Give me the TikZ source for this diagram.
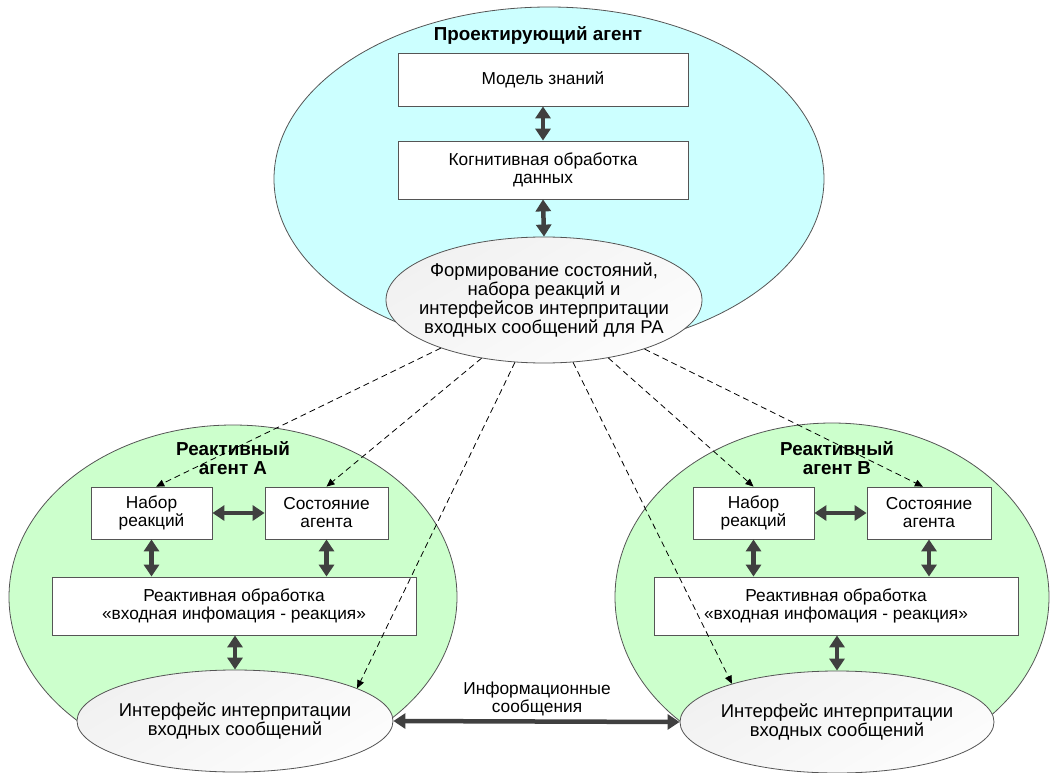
\documentclass[tikz,border=0pt]{standalone}
\usepackage{fontspec}
\setmainfont{Liberation Sans}
\usetikzlibrary{arrows.meta,shapes.geometric,calc}
\definecolor{cyanfill}{HTML}{CCFFFF}
\definecolor{greenfill}{HTML}{CCFFCC}
\definecolor{edgegray}{HTML}{555555}
\definecolor{arrgray}{HTML}{404040}
\begin{document}
\begin{tikzpicture}[x=1pt,y=-1pt,
 every node/.style={font=\fontsize{17.3}{18}\selectfont},
 agent/.style={ellipse, draw=edgegray, line width=0.8pt, inner sep=0pt},
 box/.style={rectangle, draw=edgegray, line width=0.8pt, fill=white, inner sep=0pt, align=center},
 oval/.style={ellipse, draw=edgegray, line width=0.8pt, inner sep=0pt, top color=gray!11, bottom color=gray!2, shading angle=30},
 ovaltext/.style={align=center, font=\fontsize{18.5}{18.8}\selectfont},
 ttl/.style={font=\fontsize{18.8}{19}\selectfont\bfseries, align=center},
 link/.style={draw=arrgray, line width=4.5pt, {Triangle[length=12pt,width=15pt]}-{Triangle[length=12pt,width=15pt]}},
 dlink/.style={draw=black, line width=0.8pt, dash pattern=on 6pt off 4pt, -{Triangle[length=8pt,width=7pt]}}
]
\useasboundingbox (0,0) rectangle (1050,773);
% agents
\node[agent, fill=cyanfill, minimum width=550pt, minimum height=344pt] (pa) at (549,179) {};
\node[agent, fill=greenfill, minimum width=448pt, minimum height=344pt] (ra) at (233,597) {};
\node[agent, fill=greenfill, minimum width=434pt, minimum height=348pt] (rb) at (832,597) {};
% titles
\node[ttl] (tpa) at (538,35) {Проектирующий агент};
\node[ttl] (tra) at (233,458) {Реактивный\\агент А};
\node[ttl] (trb) at (837,458) {Реактивный\\агент В};
% top agent
\node[box, minimum width=290pt, minimum height=53pt] (model) at (543,79.5) {Модель знаний};
\node[box, minimum width=290pt, minimum height=58pt] (cog) at (543,170) {Когнитивная обработка\\данных};
\node[oval, minimum width=316pt, minimum height=126pt,
  label={[ovaltext]center:Формирование состояний,\\набора реакций и\\интерфейсов интерпритации\\входных сообщений для РА}] (form) at (544,300) {};
% agent A
\node[box, minimum width=121pt, minimum height=52pt] (nabA) at (151.5,513) {Набор\\реакций};
\node[box, minimum width=123pt, minimum height=52pt] (sostA) at (326.5,513) {Состояние\\агента};
\node[box, minimum width=364pt, minimum height=58pt] (reactA) at (234,606) {Реактивная обработка\\«входная инфомация - реакция»};
\node[oval, minimum width=316pt, minimum height=102pt,
  label={[ovaltext]center:Интерфейс интерпритации\\входных сообщений}] (ifaceA) at (235,721) {};
% agent B
\node[box, minimum width=121pt, minimum height=52pt] (nabB) at (753.5,513) {Набор\\реакций};
\node[box, minimum width=124pt, minimum height=52pt] (sostB) at (929,513) {Состояние\\агента};
\node[box, minimum width=364pt, minimum height=58pt] (reactB) at (836,606) {Реактивная обработка\\«входная инфомация - реакция»};
\node[oval, minimum width=314pt, minimum height=102pt,
  label={[ovaltext]center:Интерфейс интерпритации\\входных сообщений}] (ifaceB) at (837,722) {};
% thick links
\draw[link] (model.south) -- (cog.north);
\draw[link] (cog.south) -- (form.north);
\draw[link] (nabA.east) -- (sostA.west);
\draw[link] (nabA.south) -- (nabA.south |- reactA.north);
\draw[link] (sostA.south) -- (sostA.south |- reactA.north);
\draw[link] (ifaceA.north |- reactA.south) -- (ifaceA.north);
\draw[link] (nabB.east) -- (sostB.west);
\draw[link] (nabB.south) -- (nabB.south |- reactB.north);
\draw[link] (sostB.south) -- (sostB.south |- reactB.north);
\draw[link] (ifaceB.north |- reactB.south) -- (ifaceB.north);
\draw[link] (ifaceA.east) -- (ifaceB.west);
\node[align=center] (msg) at (537,699) {Информационные\\сообщения};
% dashed links
\draw[dlink] (form.205) -- (nabA.80);
\draw[dlink] (form.223) -- (sostA.north);
\draw[dlink] (form.245) -- (ifaceA.15);
\draw[dlink] (form.295) -- (ifaceB.160);
\draw[dlink] (form.318) -- (nabB.north);
\draw[dlink] (form.334) -- (sostB.103);
\end{tikzpicture}
\end{document}
